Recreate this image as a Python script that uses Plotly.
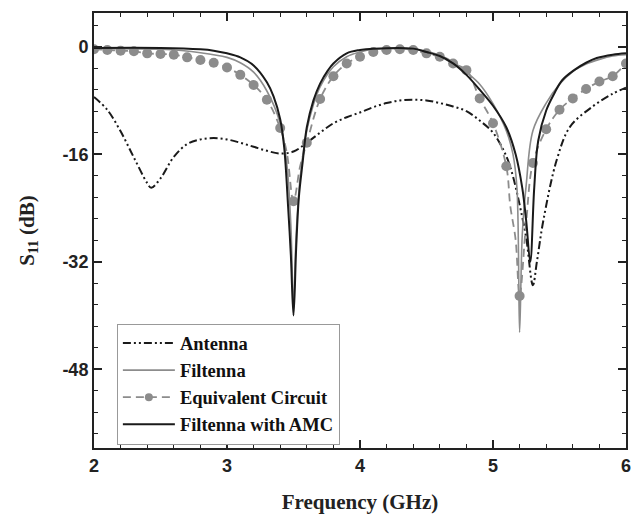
import plotly.graph_objects as go

# ---- data ----
ant_f = [2.0, 2.1, 2.2, 2.3, 2.4, 2.43, 2.5, 2.6, 2.7, 2.8, 2.9, 3.0, 3.1, 3.2, 3.3, 3.4, 3.5,
         3.6, 3.7, 3.8, 3.9, 4.0, 4.1, 4.2, 4.3, 4.4, 4.5, 4.6, 4.7, 4.8, 4.9, 5.0, 5.1, 5.15,
         5.2, 5.25, 5.3, 5.33, 5.38, 5.48, 5.58, 5.75, 5.9, 6.0]
ant_s = [-7.5, -9.4, -12.6, -16.5, -20.3, -21.0, -19.6, -16.4, -14.5, -13.8, -13.6, -13.8, -14.3,
         -14.9, -15.5, -15.9, -15.6, -14.3, -12.8, -11.4, -10.5, -9.8, -9.0, -8.4, -8.0, -7.9, -8.0,
         -8.4, -8.9, -9.6, -11.0, -12.8, -16.3, -19.3, -23.5, -28.5, -35.5, -32.0, -25.7, -16.8,
         -11.9, -8.9, -7.0, -6.1]

fil_f = [2.0, 2.5, 2.8, 3.0, 3.1, 3.2, 3.3, 3.4, 3.45, 3.48, 3.5, 3.52, 3.55, 3.6, 3.65, 3.7,
         3.8, 3.9, 4.0, 4.1, 4.3, 4.5, 4.6, 4.7, 4.8, 4.9, 5.0, 5.1, 5.15, 5.18, 5.2, 5.22, 5.25,
         5.3, 5.4, 5.5, 5.6, 5.7, 5.8, 5.9, 6.0]
fil_s = [-0.3, -0.4, -0.9, -1.6, -2.4, -3.8, -6.6, -11.4, -17.5, -26.5, -38.5, -28.0, -19.5,
         -12.5, -8.6, -6.0, -3.0, -1.5, -0.8, -0.4, -0.3, -0.7, -1.3, -2.3, -3.8, -5.6, -8.5,
         -12.5, -16.0, -21.0, -42.5, -28.0, -20.5, -12.5, -8.4, -5.6, -3.7, -2.6, -1.9, -1.4, -1.2]

ckt_f = [2.0, 2.1, 2.2, 2.3, 2.4, 2.5, 2.6, 2.7, 2.8, 2.9, 3.0, 3.1, 3.2, 3.3, 3.4, 3.5, 3.6,
         3.7, 3.8, 3.9, 4.0, 4.1, 4.2, 4.3, 4.4, 4.5, 4.6, 4.7, 4.8, 4.9, 5.0, 5.1, 5.2, 5.3,
         5.4, 5.5, 5.6, 5.7, 5.8, 5.9, 6.0]
ckt_s = [-0.4, -0.5, -0.6, -0.7, -1.0, -1.1, -1.2, -1.6, -2.0, -2.4, -3.1, -4.2, -5.7, -7.9,
         -12.1, -23.0, -14.3, -7.8, -4.4, -2.5, -1.5, -0.8, -0.5, -0.4, -0.5, -1.0, -1.5, -2.5,
         -3.5, -7.7, -11.4, -17.8, -37.1, -17.3, -12.3, -9.4, -7.7, -6.3, -5.2, -4.4, -2.5]
# extra points of the circuit's line between markers (dips)
ckt_line_f = [3.45, 3.55, 5.13, 5.17, 5.25]
ckt_line_s = [-15.8, -17.8, -23.7, -28.7, -26.0]

amc_f = [2.0, 2.5, 2.8, 2.9, 3.0, 3.1, 3.2, 3.3, 3.35, 3.4, 3.43, 3.46, 3.48, 3.5, 3.52, 3.54,
         3.57, 3.6, 3.65, 3.7, 3.76, 3.8, 3.9, 4.0, 4.1, 4.4, 4.5, 4.6, 4.7, 4.8, 4.9, 5.0, 5.1,
         5.17, 5.22, 5.25, 5.28, 5.31, 5.34, 5.4, 5.46, 5.52, 5.61, 5.7, 5.78, 5.9, 6.0]
amc_s = [-0.2, -0.2, -0.4, -0.6, -1.0, -1.6, -2.8, -5.3, -7.4, -10.8, -15.0, -24.0, -31.0,
         -40.0, -30.0, -22.5, -17.0, -12.0, -8.0, -5.5, -3.5, -2.5, -1.0, -0.5, -0.3, -0.3,
         -0.8, -1.4, -2.5, -4.2, -6.4, -8.8, -12.0, -16.0, -21.0, -26.0, -32.0, -21.0, -14.0,
         -9.5, -7.0, -5.0, -3.5, -2.4, -1.7, -1.2, -1.0]

names = ["Antenna", "Filtenna", "Equivalent Circuit", "Filtenna with AMC"]

y_ticks = [0, -16, -32, -48]
y_tick_text = ["0", "-16", "-32", "-48"]
x_ticks = [2, 3, 4, 5, 6]
x_tick_text = ["2", "3", "4", "5", "6"]

# merge circuit line points
pairs = sorted(list(zip(ckt_f, ckt_s)) + list(zip(ckt_line_f, ckt_line_s)))
cl_f = [p[0] for p in pairs]
cl_s = [p[1] for p in pairs]

GRAY = "#8c8c8c"
INK = "#1a1a1a"
fig = go.Figure()
fig.add_trace(go.Scatter(x=ant_f, y=ant_s, mode="lines", name=names[0], line_shape="spline",
                         line=dict(color=INK, width=2, dash="8px,3px,2px,3px,2px,3px")))
fig.add_trace(go.Scatter(x=fil_f, y=fil_s, mode="lines", name=names[1], line_shape="spline",
                         line=dict(color=GRAY, width=1.6)))
fig.add_trace(go.Scatter(x=cl_f, y=cl_s, mode="lines", showlegend=False, line_shape="spline",
                         line=dict(color=GRAY, width=1.8, dash="8px,5px")))
fig.add_trace(go.Scatter(x=ckt_f, y=ckt_s, mode="markers", showlegend=False,
                         marker=dict(color=GRAY, size=10)))
fig.add_trace(go.Scatter(x=[None], y=[None], mode="lines+markers", name=names[2],
                         line=dict(color=GRAY, width=1.8, dash="8px,5px"),
                         marker=dict(color=GRAY, size=8)))
fig.add_trace(go.Scatter(x=amc_f, y=amc_s, mode="lines", name=names[3], line_shape="spline",
                         line=dict(color=INK, width=2)))

serif = "Liberation Serif, Times New Roman, serif"
sans = "Liberation Sans, Arial, sans-serif"
axis_common = dict(showgrid=False, zeroline=False, showline=True, linecolor="#222", linewidth=2,
                   mirror="ticks", ticks="inside", ticklen=8, tickwidth=1.5, tickcolor="#222",
                   tickfont=dict(family=sans, size=18, color="#222", weight="bold"))

fig.update_layout(
    width=638, height=517,
    margin=dict(l=94, r=7, t=13, b=67),
    paper_bgcolor="white", plot_bgcolor="white",
    xaxis=dict(range=[2, 6], tickvals=x_ticks, ticktext=x_tick_text,
               minor=dict(dtick=0.2, tick0=2, ticks="inside", ticklen=4, tickwidth=1.2, tickcolor="#222"),
               title=dict(text="Frequency (GHz)", standoff=20,
                          font=dict(family=serif, size=21, color="#222", weight="bold")),
               **axis_common),
    yaxis=dict(range=[-59.7, 5], tickvals=y_ticks, ticktext=y_tick_text,
               minor=dict(dtick=3.2, tick0=0, ticks="inside", ticklen=4, tickwidth=1.2, tickcolor="#222"),
               title=dict(text="S<sub>11</sub> (dB)", standoff=22,
                          font=dict(family=serif, size=21, color="#222", weight="bold")),
               **axis_common),
    legend=dict(x=0.043, y=0.286, xanchor="left", yanchor="top",
                bordercolor="#999", borderwidth=1, bgcolor="white", itemwidth=52,
                font=dict(family=serif, size=18.5, color="#111", weight="bold"),
                tracegroupgap=0),
    showlegend=True,
)

fig.write_html("out.html")
